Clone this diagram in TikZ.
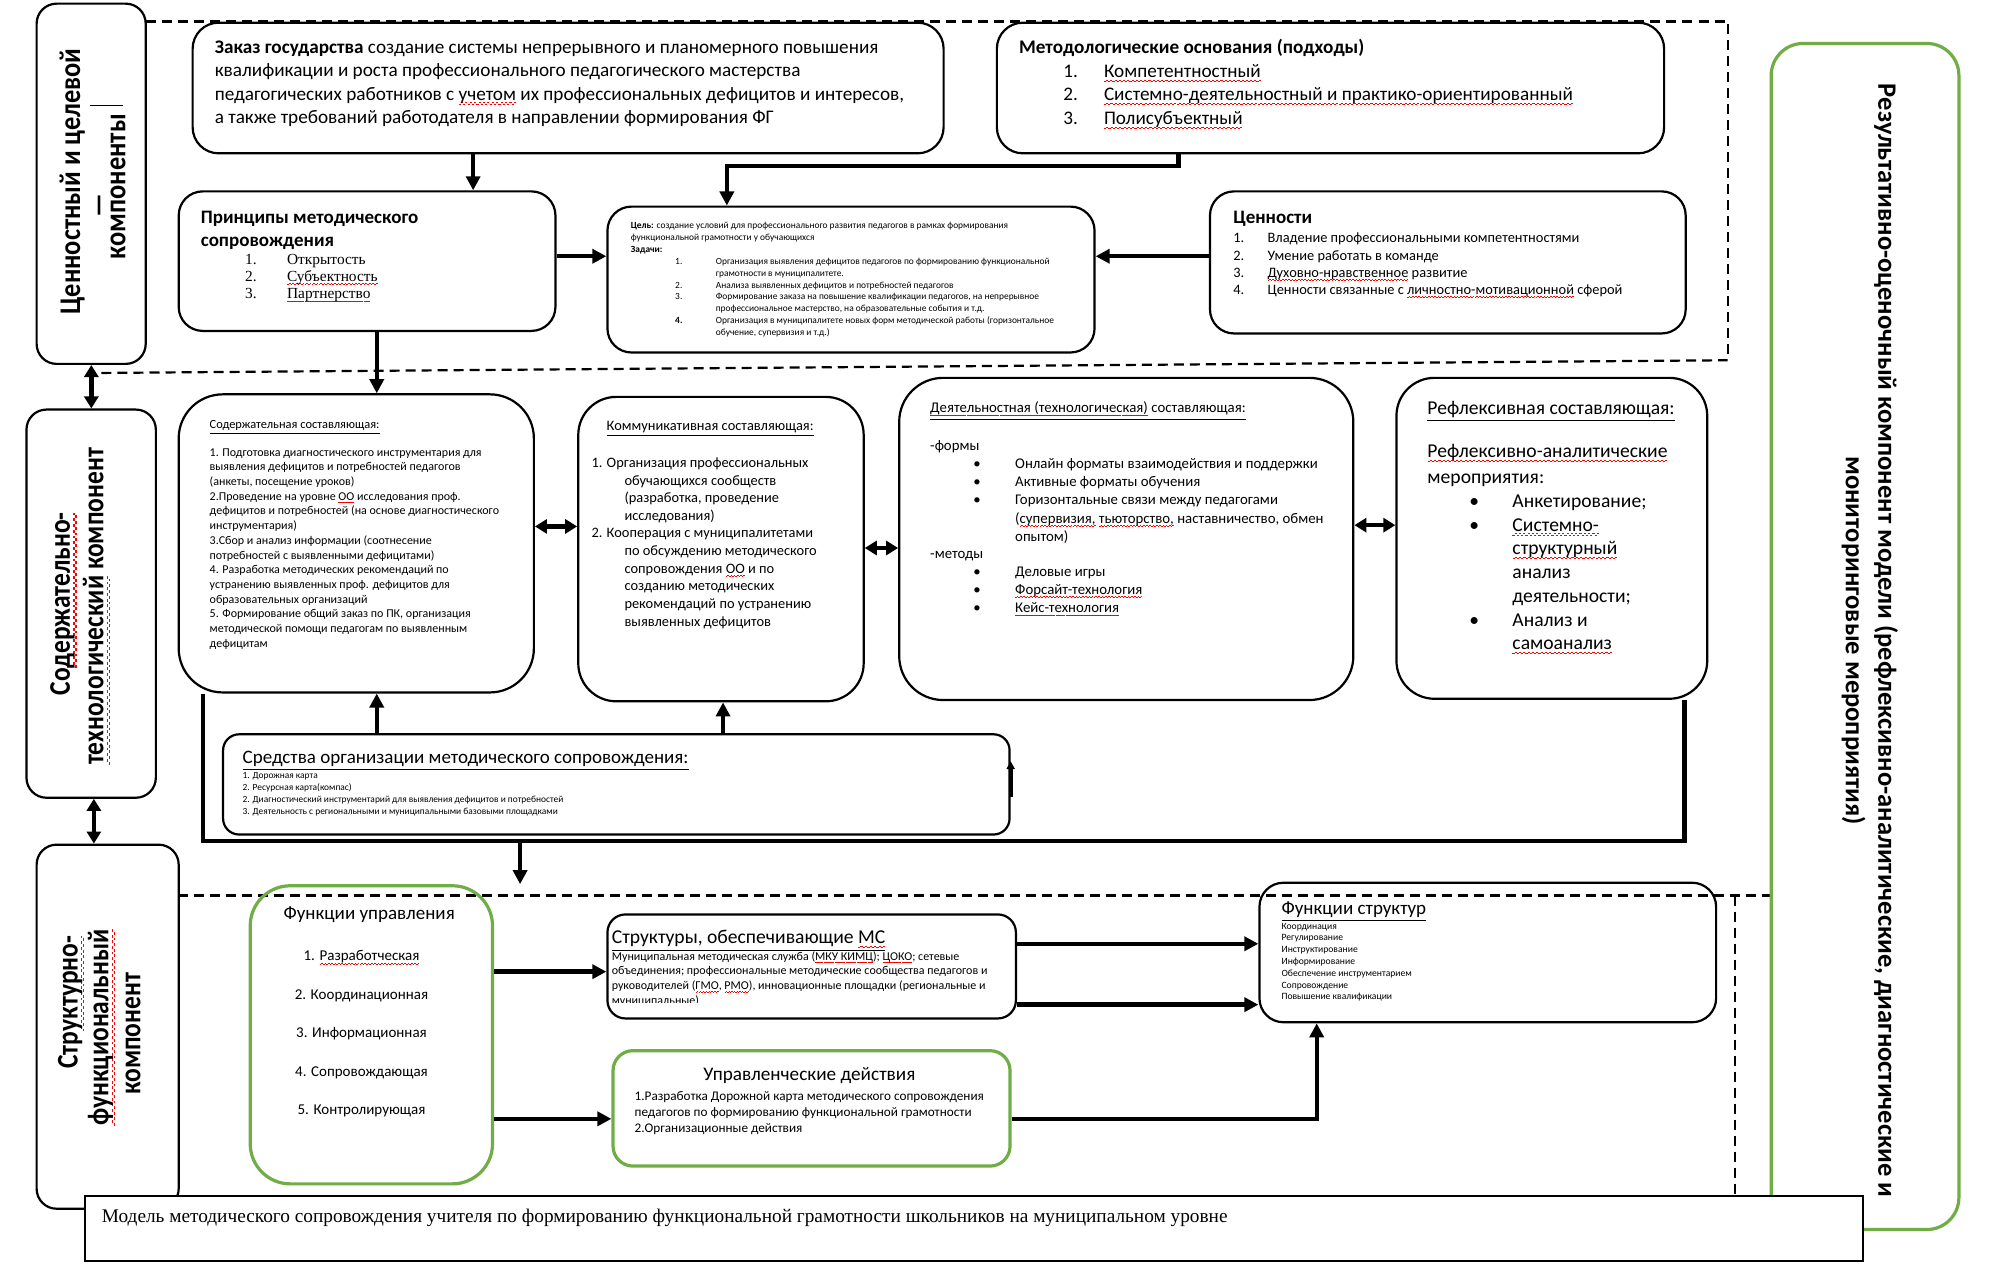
\documentclass[tikz,border=0pt]{standalone}
\usepackage{fontspec}
\setmainfont{Carlito}
\newfontfamily\tnr{Liberation Serif}
\usetikzlibrary{arrows.meta}
\definecolor{ogreen}{HTML}{70AD47}
\newcommand\fsz[1]{\fontsize{#1}{#1}\selectfont}
\newsavebox\sqbox
\newcommand\sq[1]{\sbox\sqbox{#1}\rlap{\color{red}\hbox to \wd\sqbox{\xleaders\hbox{\rule[-0.22em]{0.11em}{0.045em}\rule[-0.16em]{0.11em}{0.045em}}\hfill}}\usebox\sqbox}
\newcommand\boxnode[6][]{\node[rbox,#1,anchor=north west,minimum width={(#5-#3)*0.634pt},minimum height={(#6-#4)*0.634pt}] (#2) at (#3,#4) {};}
\newcommand\txl[6]{\foreach \ltext [count=\i from 0] in {#6} {\node[anchor=base west,inner sep=0pt,font=#5] (#1-\i) at (#2,{#3+\i*#4}) {\ltext};}}
\begin{document}
\begin{tikzpicture}[x=0.634pt,y=-0.634pt,
  rbox/.style={draw,line width=1.1pt,inner sep=0pt},
  gbox/.style={draw=ogreen,line width=1.6pt},
  arr/.style={line width=2.2pt,-{Triangle[length=7pt,width=7pt]}},
  darr/.style={line width=2.2pt,{Triangle[length=6pt,width=7pt]}-{Triangle[length=6pt,width=7pt]}},
  dline/.style={dashed,dash pattern=on 5pt off 3pt,line width=1.1pt},
  lab/.style={rotate=90,font=\fsz{15}\bfseries,inner sep=0pt}]
\fill[white] (0,0) rectangle (1568,996);
\useasboundingbox (0,0) rectangle (1568,996);

% dashed section lines
\draw[dline] (115,17) -- (1362,17) -- (1362,284);
\draw[dline] (80,294) -- (1362,284);
\draw[dline] (140,706) -- (1395,706);
\draw[dline] (1368,706) -- (1368,942);
\draw[dline] (1150,994) -- (1392,994);

% left component labels
\boxnode[rounded corners=10pt]{lab1}{28}{2}{114}{286}
\node[lab] (l1a) at (57,143) {\scalebox{0.88}[1]{Ценностный и целевой}};
\node[lab] (l1b) at (81,162) {\scalebox{0.88}[1]{—}};
\node[lab] (l1c) at (93,147) {\scalebox{0.88}[1]{компоненты}};
\draw[line width=0.6pt] (71,83) -- (97,83);
\boxnode[rounded corners=10pt]{lab2}{20}{322}{122}{628}
\node[lab] (l2a) at (50,476) {\scalebox{0.85}[1]{Со\sq{держательно-}}};
\node[lab] (l2b) at (76,478) {\scalebox{0.85}[1]{\sq{технологический} компонент}};
\boxnode[rounded corners=10pt]{lab3}{28}{665}{140}{952}
\node[lab] (l3a) at (56,790) {\scalebox{0.85}[1]{Стр\sq{уктурно-}}};
\node[lab] (l3b) at (80,810) {\scalebox{0.85}[1]{\sq{функциональный}}};
\node[lab] (l3c) at (105,815) {\scalebox{0.85}[1]{компонент}};
\draw[darr] (72,0 |- lab1.south) -- (72,0 |- lab2.north);
\draw[darr] (74,0 |- lab2.south) -- (74,0 |- lab3.north);

% right result component
\boxnode[gbox,rounded corners=16pt]{res}{1395}{33}{1543}{968}
\node[rotate=-90,font=\fsz{13.25}\bfseries,align=center,inner sep=0pt] (rest) at (1474,505)
  {Результативно-оценочный компонент модели (рефлексивно-аналитические, диагностические и\\[3pt]мониторинговые мероприятия)};

% top row
\boxnode[rounded corners=13pt]{zak}{151}{17}{743}{120}
\txl{zt}{169}{42}{18.5}{\fsz{9.6}}{{\textbf{Заказ государства} создание системы непрерывного и планомерного повышения},
 {квалификации и роста профессионального педагогического мастерства},
 {педагогических работников с \sq{учетом} их профессиональных дефицитов и интересов,},
 {а также требований работодателя в направлении формирования ФГ}}

\boxnode[rounded corners=13pt]{met}{785}{17}{1311}{120}
\node[anchor=base west,inner sep=0pt,font=\fsz{9.6}\bfseries] (mt) at (803,42) {Методологические основания (подходы)};
\txl{mn}{838}{61}{18.5}{\fsz{9.6}}{1.,2.,3.}
\txl{mi}{870}{61}{18.5}{\fsz{9.6}}{\sq{Компетентностный},\sq{Системно-деятельностный и практико-ориентированный},\sq{Полисубъектный}}

\boxnode[rounded corners=12pt]{pri}{140}{150}{437}{260}
\txl{pt}{158}{176}{18}{\fsz{9.5}\bfseries}{Принципы методического,сопровождения}
\txl{pn}{193}{208.5}{13.5}{\tnr\fsz{7.7}}{1.,2.,3.}
\txl{pi}{226}{208.5}{13.5}{\tnr\fsz{7.7}}{Открытость,\sq{Субъектность},\sq{Партнерство}}

\boxnode[rounded corners=12pt]{goal}{478}{162}{862}{277}
\txl{gt}{497}{180}{9.5}{\fsz{4.7}}{{\textbf{Цель:} создание условий для профессионального развития педагогов в рамках формирования},
 функциональной грамотности у обучающихся,\textbf{Задачи:}}
\txl{gi}{564}{208.5}{9.3}{\fsz{4.7}}{Организация выявления дефицитов педагогов по формированию функциональной,
 грамотности в муниципалитете.,
 Анализа выявленных дефицитов и потребностей педагогов,
 {Формирование заказа на повышение квалификации педагогов, на непрерывное},
 {профессиональное мастерство, на образовательные события и т.д.},
 Организация в муниципалитете новых форм методической работы (горизонтальное,
 {обучение, супервизия и т.д.)}}
\node[anchor=base west,inner sep=0pt,font=\fsz{4.7}] (g1) at (532,208.5) {1.};
\node[anchor=base west,inner sep=0pt,font=\fsz{4.7}] (g2) at (532,227.1) {2.};
\node[anchor=base west,inner sep=0pt,font=\fsz{4.7}] (g3) at (532,236.4) {3.};
\node[anchor=base west,inner sep=0pt,font=\fsz{4.7}\bfseries] (g4) at (532,255) {4.};

\boxnode[rounded corners=12pt]{val}{953}{150}{1328}{262}
\node[anchor=base west,inner sep=0pt,font=\fsz{9.5}\bfseries] (vt) at (972,176) {Ценности};
\txl{vn}{972}{191.5}{13.6}{\fsz{7.2}}{1.,2.,3.,4.}
\txl{vi}{999}{191.5}{13.6}{\fsz{7.2}}{Владение профессиональными компетентностями,Умение работать в команде,
 \sq{Духовно-нравственное} развитие,Ценности связанные с \sq{личностно-мотивационной} сферой}

% middle row
\boxnode[rounded corners=22pt]{cont}{140}{310}{420}{545}
\node[anchor=base west,inner sep=0pt,font=\fsz{6.2}] (ct) at (165,337.5) {\underline{Содержательная составляющая:}};
\txl{ci}{165}{359.5}{11.6}{\fsz{6}}{1. Подготовка диагностического инструментария для,
 выявления дефицитов и потребностей педагогов,
 {(анкеты, посещение уроков)},
 2.Проведение на уровне \sq{ОО} исследования проф.,
 дефицитов и потребностей (на основе диагностического,
 инструментария),
 3.Сбор и анализ информации (соотнесение,
 потребностей с выявленными дефицитами),
 4. Разработка методических рекомендаций по,
 устранению выявленных проф. дефицитов для,
 образовательных организаций,
 {5. Формирование общий заказ по ПК, организация},
 методической помощи педагогам по выявленным,
 дефицитам}

\draw[arr] (373,0 |- zak.south) -- (373,0 |- pri.north);
\draw[arr] (929,0 |- met.south) -- (929,131) -- (573,131) -- (573,0 |- goal.north);
\draw[arr] (pri.east |- 0,202) -- (goal.west |- 0,202);
\draw[arr] (val.west |- 0,202) -- (goal.east |- 0,202);
\draw[arr] (297,0 |- pri.south) -- (297,0 |- cont.north);

\boxnode[rounded corners=19pt]{comm}{455}{312}{680}{552}
\node[anchor=base west,inner sep=0pt,font=\fsz{7.2}] (cmt) at (478,339.5) {\underline{Коммуникативная составляющая:}};
\node[anchor=base west,inner sep=0pt,font=\fsz{7.2}] (cm1) at (466,368.5) {1.};
\node[anchor=base west,inner sep=0pt,font=\fsz{7.2}] (cm2) at (466,424.1) {2.};
\node[anchor=base west,inner sep=0pt,font=\fsz{7.2}] (cma) at (478,368.5) {Организация профессиональных};
\txl{cmb}{492}{382.4}{13.9}{\fsz{7.2}}{обучающихся сообществ,{(разработка, проведение},исследования)}
\node[anchor=base west,inner sep=0pt,font=\fsz{7.2}] (cmc) at (478,424.1) {Кооперация с муниципалитетами};
\txl{cmd}{492}{438}{13.9}{\fsz{7.2}}{по обсуждению методического,сопровождения \sq{ОО} и по,созданию методических,рекомендаций по устранению,выявленных дефицитов}

\boxnode[rounded corners=22pt]{act}{708}{297}{1066}{551}
\node[anchor=base west,inner sep=0pt,font=\fsz{7.4}] (at) at (733,325.5) {\underline{\sq{Деятельностная (технологическая)} составляющая:}};
\node[anchor=base west,inner sep=0pt,font=\fsz{7.4}] (af) at (733,355.5) {-формы};
\txl{ab}{767}{369.5}{14.3}{\fsz{7.4}}{•,•,•}
\txl{ai}{800}{369.5}{14.3}{\fsz{7.4}}{Онлайн форматы взаимодействия и поддержки,Активные форматы обучения,
 Горизонтальные связи между педагогами,{(\sq{супервизия,} \sq{тьюторство,} наставничество, обмен},опытом)}
\node[anchor=base west,inner sep=0pt,font=\fsz{7.4}] (am) at (733,440.5) {-методы};
\txl{ac}{767}{454.5}{14.3}{\fsz{7.4}}{•,•,•}
\txl{aj}{800}{454.5}{14.3}{\fsz{7.4}}{Деловые игры,\sq{Форсайт-технология},\sq{Кейс-технология}}

\boxnode[rounded corners=19pt]{ref}{1100}{297}{1345}{550}
\node[anchor=base west,inner sep=0pt,font=\fsz{9.8}] (rt) at (1125,327) {\underline{Рефлексивная составляющая:}};
\txl{ra}{1125}{361}{20}{\fsz{9.8}}{\sq{Рефлексивно-аналитические},мероприятия:}
\txl{ri}{1192}{400}{18.7}{\fsz{9.8}}{Анкетирование;,\sq{Системно-},\sq{структурный},анализ,деятельности;,Анализ и,\sq{самоанализ}}
\node[anchor=base west,inner sep=0pt,font=\fsz{9.8}] (rb1) at (1158,400) {•};
\node[anchor=base west,inner sep=0pt,font=\fsz{9.8}] (rb2) at (1158,418.7) {•};
\node[anchor=base west,inner sep=0pt,font=\fsz{9.8}] (rb3) at (1158,493.5) {•};

\draw[darr] (cont.east |- 0,415) -- (comm.west |- 0,415);
\draw[darr] (comm.east |- 0,432) -- (act.west |- 0,432);
\draw[darr] (act.east |- 0,414) -- (ref.west |- 0,414);

% means
\boxnode[rounded corners=8pt]{means}{175}{578}{795}{657}
\node[anchor=base west,inner sep=0pt,font=\fsz{9.5}] (mst) at (191,602) {\underline{Средства организации методического сопровождения:}};
\txl{msi}{191}{613.5}{9.4}{\fsz{4.7}}{1. Дорожная карта,2. Ресурсная карта(компас),
 2. Диагностический инструментарий для выявления дефицитов и потребностей,
 3. Деятельность с региональными и муниципальными базовыми площадками}
\draw[arr] (297,0 |- means.north) -- (297,0 |- cont.south);
\draw[arr] (570,0 |- means.north) -- (570,0 |- comm.south);
\draw[line width=2pt,-{Triangle[length=4pt,width=4pt]}] (means.east |- 0,628) -- (means.east |- 0,600);

% loop
\coordinate (lp) at (410,663);
\draw[line width=2.4pt] (160,0 |- cont.south) -- (160,663) -- (1328,663) -- (1328,0 |- ref.south);

% bottom section
\boxnode[gbox,rounded corners=20pt]{fm}{196}{697}{387}{932}
\node[anchor=base,inner sep=0pt,font=\fsz{9.5}] (fmt) at (291,725) {Функции управления};
\foreach \ltext [count=\i from 0] in {1. \sq{Разработческая},2. Координационная,3. Информационная,4. Сопровождающая,5. Контролирующая}
  {\node[anchor=base,inner sep=0pt,font=\fsz{7.5}] (fmi-\i) at (285,{757.5+\i*30.3}) {\ltext};}
\draw[arr] (lp) -- (410,0 |- fm.north);

\boxnode[rounded corners=9pt]{st}{478}{720}{800}{802}
\node[anchor=base west,inner sep=0pt,font=\fsz{9.8}] (stt) at (482,744) {\underline{Структуры, обеспечивающие \sq{МС}}};
\begin{scope}
\clip (479,721) rectangle (799,790.5);
\txl{sti}{482}{757}{11.5}{\fsz{6}}{Муниципальная методическая служба (\sq{МКУ КИМЦ}); \sq{ЦОКО}; сетевые,
 объединения; профессиональные методические сообщества педагогов и,
 {руководителей (\sq{ГМО}, \sq{РМО}), инновационные площадки (региональные и},
 муниципальные)}
\end{scope}

\boxnode[rounded corners=12pt]{fs}{992}{695}{1352}{805}
\node[anchor=base west,inner sep=0pt,font=\fsz{9.5}] (fst) at (1010,721) {\underline{Функции структур}};
\txl{fsi}{1010}{732.5}{9.3}{\fsz{4.8}}{Координация,Регулирование,Инструктирование,Информирование,Обеспечение инструментарием,Сопровождение,Повышение квалификации}

\boxnode[gbox,rounded corners=10pt]{ud}{482}{827}{795}{918}
\node[anchor=base,inner sep=0pt,font=\fsz{9.6}] (udt) at (638,852) {Управленческие действия};
\txl{udi}{500}{867.5}{12.5}{\fsz{6.6}}{1.Разработка Дорожной карта методического сопровождения,педагогов по формированию функциональной грамотности,2.Организационные действия}

\draw[arr] (fm.east |- 0,766) -- (st.west |- 0,766);
\draw[arr] (fm.east |- 0,882) -- (ud.west |- 0,882);
\draw[arr] (st.east |- 0,744) -- (fs.west |- 0,744);
\draw[arr] (st.east |- 0,792) -- (fs.west |- 0,792);
\draw[arr] (ud.east |- 0,882) -- (1038,882) -- (1038,0 |- fs.south);

% caption
\node[draw,line width=1pt,fill=white,anchor=north west,inner sep=0pt,minimum width={1402*0.634pt},minimum height={51*0.634pt}] (cap) at (66,942) {};
\node[anchor=base west,inner sep=0pt,font=\tnr\fsz{9.65}] (capt) at (80,964) {Модель методического сопровождения учителя по формированию функциональной грамотности школьников на муниципальном уровне};
\end{tikzpicture}
\end{document}
